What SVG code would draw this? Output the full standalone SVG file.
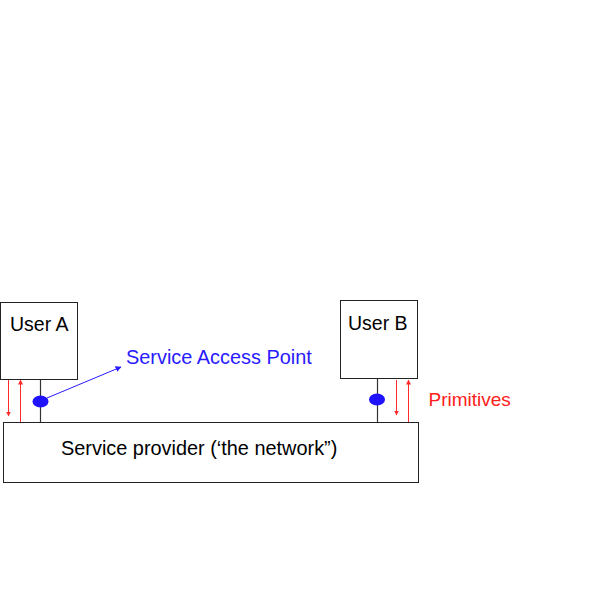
<svg xmlns="http://www.w3.org/2000/svg" width="591" height="593" viewBox="0 0 591 593">
<style>
.box{fill:#fff;stroke:#222;stroke-width:1}
.t{font-family:"Liberation Sans",Arial,sans-serif;font-size:19.5px;fill:#000}
.stem{stroke:#333;stroke-width:1.2}
.sap{fill:#1f12ff}
.red{stroke:#ff2a2a;stroke-width:1}
</style>
<defs>
<marker id="ar" viewBox="0 0 10 10" refX="9" refY="5" markerWidth="5" markerHeight="5" orient="auto" markerUnits="userSpaceOnUse"><path d="M0,0L10,5L0,10z" fill="#ff2a2a"/></marker>
<marker id="ab" viewBox="0 0 10 10" refX="9" refY="5" markerWidth="6" markerHeight="6" orient="auto" markerUnits="userSpaceOnUse"><path d="M0,0L10,5L0,10z" fill="#2a1aff"/></marker>
</defs>
<rect width="591" height="593" fill="#fff"/>
<g id="connectors">
<line class="stem" x1="40.5" y1="379" x2="40.5" y2="422"/>
<line class="stem" x1="377.5" y1="378" x2="377.5" y2="422"/>
<line class="red" x1="8.5" y1="380" x2="8.5" y2="416" marker-end="url(#ar)"/>
<line class="red" x1="20.5" y1="422" x2="20.5" y2="380" marker-end="url(#ar)"/>
<line class="red" x1="396.5" y1="380" x2="396.5" y2="415" marker-end="url(#ar)"/>
<line class="red" x1="408.5" y1="422" x2="408.5" y2="380" marker-end="url(#ar)"/>
<line x1="47" y1="398" x2="121" y2="367" stroke="#2a1aff" stroke-width="1" marker-end="url(#ab)"/>
</g>
<g id="userA">
<rect class="box" x="0.5" y="302.5" width="77" height="77"/>
<text class="t" x="10" y="331">User A</text>
</g>
<g id="userB">
<rect class="box" x="340.5" y="300.5" width="77" height="78"/>
<text class="t" x="348" y="330">User B</text>
</g>
<g id="provider">
<rect class="box" x="3.5" y="422.5" width="415" height="60"/>
<text class="t" x="61" y="455" style="font-size:19.9px">Service provider (‘the network”)</text>
</g>
<g id="sapA"><ellipse class="sap" cx="40.5" cy="401.5" rx="8" ry="6"/></g>
<g id="sapB"><ellipse class="sap" cx="377" cy="399.5" rx="8" ry="6"/></g>
<g id="labels">
<text class="t" x="126" y="364" style="fill:#2a1aff;font-size:19.9px">Service Access Point</text>
<text class="t" x="428.5" y="406" style="fill:#ff2020;font-size:19px">Primitives</text>
</g>
</svg>
